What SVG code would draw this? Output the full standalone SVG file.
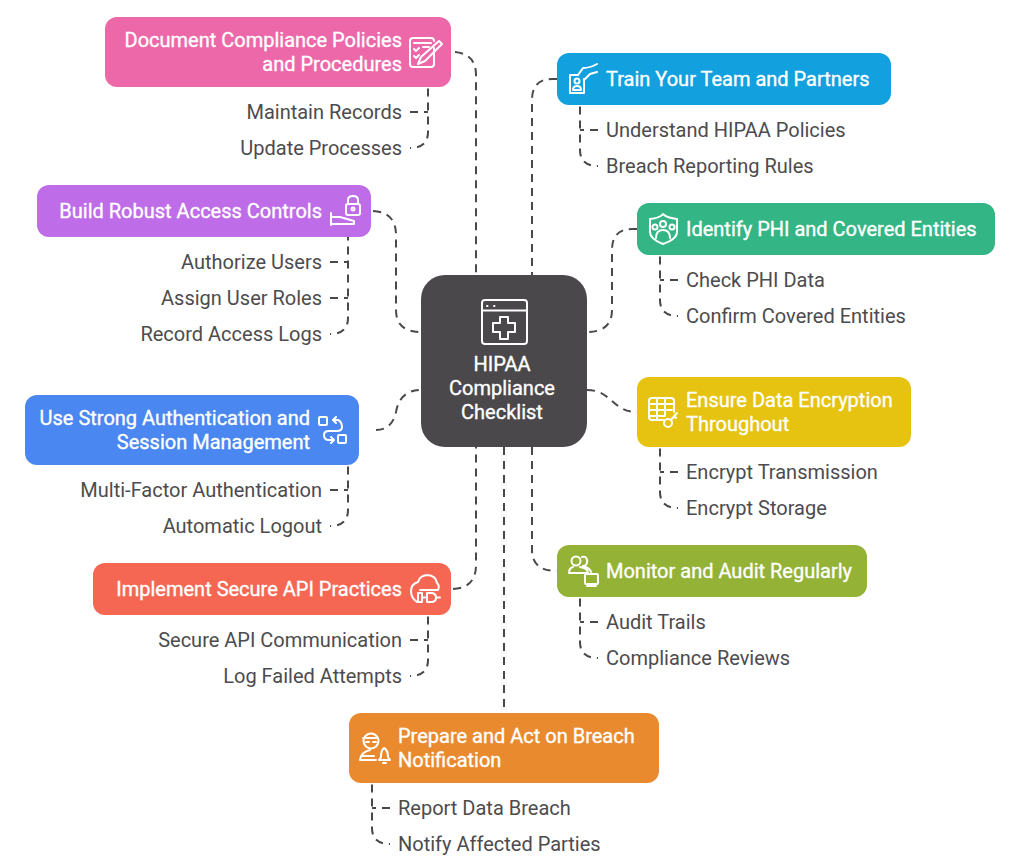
<svg xmlns="http://www.w3.org/2000/svg" width="1020" height="866" viewBox="0 0 1020 866">
<style>
text{font-family:Roboto,"Liberation Sans",sans-serif;font-size:20px}
.t{fill:#fff;font-weight:400;stroke:#fff;stroke-width:.35}
.c{fill:#4d4b4e}
.e{text-anchor:end}
.m{text-anchor:middle;fill:#fff;font-weight:400;stroke:#fff;stroke-width:.35}
.i{fill:none;stroke:#fff;stroke-width:2;stroke-linecap:round;stroke-linejoin:round}
#connectors path{fill:none;stroke:#4a484b;stroke-width:2;stroke-dasharray:8 6}
#connectors path.l{stroke-dashoffset:7}
</style>
<rect width="1020" height="866" fill="#fff"/>
<g id="connectors">
<path d="M455 52Q476 54 476 75V275"/>
<path d="M410 112H428"/>
<path class="l" d="M410 148Q428 148 428 132V87"/>
<path d="M557 79H552Q532 79 532 100V275"/>
<path d="M598 130H580"/>
<path class="l" d="M598 166Q580 166 580 150V105"/>
<path d="M637 229H632Q612 229 612 250V310Q612 332 587 332"/>
<path d="M678 280H660"/>
<path class="l" d="M678 316Q660 316 660 300V255"/>
<path d="M587 390C612 390 612 412 637 412"/>
<path d="M678 472H660"/>
<path class="l" d="M678 508Q660 508 660 492V447"/>
<path d="M532 447V550Q532 571 557 571"/>
<path d="M598 622H580"/>
<path class="l" d="M598 658Q580 658 580 642V597"/>
<path d="M373 211Q396 212 396 235V310Q396 332 421 332"/>
<path d="M330 262H348"/>
<path d="M330 298H348"/>
<path class="l" d="M330 334Q348 334 348 318V237"/>
<path d="M376 430Q392 430 396 412Q400 390 421 390"/>
<path d="M330 490H348"/>
<path class="l" d="M330 526Q348 526 348 510V465"/>
<path d="M453 589Q476 588 476 565V447"/>
<path d="M410 640H428"/>
<path class="l" d="M410 676Q428 676 428 660V615"/>
<path d="M504 447V713"/>
<path d="M390 808H372"/>
<path class="l" d="M390 844Q372 844 372 828V783"/>
</g>
<g id="center">
<rect x="421" y="275" width="166" height="172" rx="24" fill="#4a484b"/>
<g class="i"><rect x="482" y="300" width="45" height="44" rx="3"/><path d="M482 310.500H527"/><path d="M500 317H508V323H515V332H508V339H500V332H493V323H500Z"/><path d="M487 306h.5M494 306h.5"/></g>
<text class="m" x="502" y="371">HIPAA</text>
<text class="m" x="502" y="395">Compliance</text>
<text class="m" x="502" y="419">Checklist</text>
</g>
<g id="doc">
<rect x="105" y="17" width="346" height="70" rx="12" fill="#ec68a9"/>
<text class="t e" x="402" y="47">Document Compliance Policies</text>
<text class="t e" x="402" y="71">and Procedures</text>
<g class="i"><path d="M434 48V64Q434 67 431 67H413Q410 67 410 64V41Q410 38 413 38H431Q434 38 434 41"/><path d="M414 43H431M414 49l2 2 3-3M414 56l2 2 3-3M423 47H429"/><path d="M439 41L442 44L425 61L418 64L421 57Z"/></g>
<text class="c e" x="402" y="119">Maintain Records</text>
<text class="c e" x="402" y="155">Update Processes</text>
</g>
<g id="train">
<rect x="557" y="53" width="334" height="52" rx="12" fill="#12a0de"/>
<text class="t" x="606" y="86">Train Your Team and Partners</text>
<g class="i"><path d="M578 75H570V93H584V79"/><circle cx="577" cy="81" r="2.500"/><path d="M573 90Q573 86 577 86Q581 86 581 90Z"/><path d="M578 75L583 68Q590 68 597 64M584 80L590 74L597 72"/></g>
<text class="c" x="606" y="137">Understand HIPAA Policies</text>
<text class="c" x="606" y="173">Breach Reporting Rules</text>
</g>
<g id="identify">
<rect x="637" y="203" width="358" height="52" rx="12" fill="#33b585"/>
<text class="t" x="686" y="236">Identify PHI and Covered Entities</text>
<g class="i"><path d="M650 219Q660 218 663 214Q667 218 677 219V232Q677 239 663 244Q650 239 650 232Z"/><circle cx="663" cy="224" r="3"/><circle cx="655" cy="227" r="2.500"/><circle cx="672" cy="227" r="2.500"/><path d="M656 238Q656 230 663 230Q670 230 670 238"/></g>
<text class="c" x="686" y="287">Check PHI Data</text>
<text class="c" x="686" y="323">Confirm Covered Entities</text>
</g>
<g id="ensure">
<rect x="637" y="377" width="274" height="70" rx="12" fill="#e5c310"/>
<text class="t" x="686" y="407">Ensure Data Encryption</text>
<text class="t" x="686" y="431">Throughout</text>
<g class="i"><path d="M664 420H652Q649 420 649 417V401Q649 398 652 398H671Q674 398 674 401V412"/><path d="M649 404H674M649 410H672M649 416H665M657 398V420M665 398V416"/><circle cx="668" cy="423" r="4"/><path d="M671 420L677 413M674 416l2 2"/></g>
<text class="c" x="686" y="479">Encrypt Transmission</text>
<text class="c" x="686" y="515">Encrypt Storage</text>
</g>
<g id="monitor">
<rect x="557" y="545" width="310" height="52" rx="12" fill="#93b236"/>
<text class="t" x="606" y="578">Monitor and Audit Regularly</text>
<g class="i"><circle cx="576" cy="561" r="4.500"/><path d="M569 573Q569 568 573 567M569 573H588Q588 568 580 567M582 557Q588 556 587 563Q586 566 583 566Q590 568 591 572"/><rect x="585" y="574" width="13" height="10" rx="1"/><path d="M591.500 584V586M587 586H596"/></g>
<text class="c" x="606" y="629">Audit Trails</text>
<text class="c" x="606" y="665">Compliance Reviews</text>
</g>
<g id="access">
<rect x="37" y="185" width="334" height="52" rx="12" fill="#be6ce8"/>
<text class="t e" x="322" y="218">Build Robust Access Controls</text>
<g class="i"><rect x="346" y="204" width="14" height="11" rx="2"/><path d="M348 204V200Q348 196 353 196Q358 196 358 200V204"/><circle cx="353" cy="209" r="1.500"/><path d="M331 213V225M331 217H340L354 221V224H331"/></g>
<text class="c e" x="322" y="269">Authorize Users</text>
<text class="c e" x="322" y="305">Assign User Roles</text>
<text class="c e" x="322" y="341">Record Access Logs</text>
</g>
<g id="auth">
<rect x="25" y="395" width="334" height="70" rx="12" fill="#4a87f0"/>
<text class="t e" x="310" y="425">Use Strong Authentication and</text>
<text class="t e" x="310" y="449">Session Management</text>
<g class="i"><rect x="319" y="417" width="8" height="8" rx="1"/><rect x="338" y="435" width="8" height="8" rx="1"/><path d="M334 420H338Q342 422 342 427Q342 431 337 431H329Q324 431 324 435Q324 440 329 440H333M336 417L333 420L336 423M331 437L334 440L331 443"/></g>
<text class="c e" x="322" y="497">Multi-Factor Authentication</text>
<text class="c e" x="322" y="533">Automatic Logout</text>
</g>
<g id="api">
<rect x="93" y="563" width="358" height="52" rx="12" fill="#f56753"/>
<text class="t e" x="402" y="596">Implement Secure API Practices</text>
<g class="i"><path d="M417 602Q411 598 411 591Q411 584 418 582Q420 575 428 575Q436 576 437 583Q440 586 438 590H420"/><path d="M418 593H422V602H418ZM431 593H427V602H431Q436 602 436 597.500Q436 593 431 593ZM436 597.500H440M423 597.500H427"/></g>
<text class="c e" x="402" y="647">Secure API Communication</text>
<text class="c e" x="402" y="683">Log Failed Attempts</text>
</g>
<g id="breach">
<rect x="349" y="713" width="310" height="70" rx="12" fill="#ea8a2f"/>
<text class="t" x="398" y="743">Prepare and Act on Breach</text>
<text class="t" x="398" y="767">Notification</text>
<g class="i"><circle cx="371" cy="741" r="7.500"/><path d="M363 738H378M366 742h3M373 742h3"/><path d="M360 760Q361 752 370 750M360 760H376M363 756H374"/><path d="M381 757Q381 750 384 748Q388 750 388 757L390 760H379ZM383 763H386"/></g>
<text class="c" x="398" y="815">Report Data Breach</text>
<text class="c" x="398" y="851">Notify Affected Parties</text>
</g>
</svg>
